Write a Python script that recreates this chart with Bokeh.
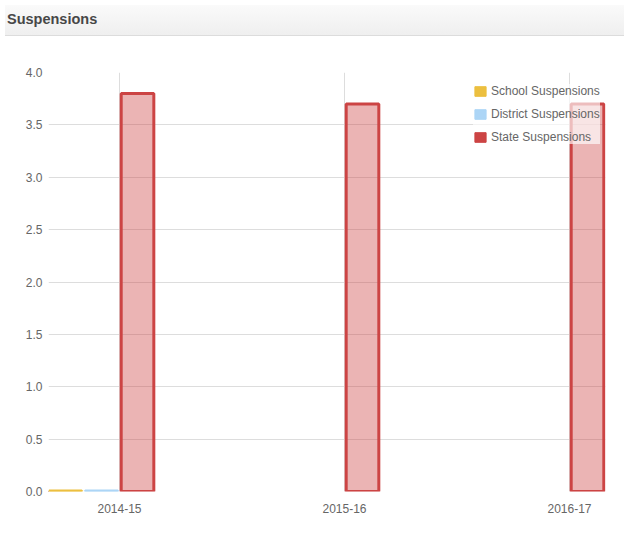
from bokeh.plotting import figure
from bokeh.models import ColumnDataSource, FixedTicker, Div, Legend, LegendItem, NumeralTickFormatter
from bokeh.layouts import column
from bokeh.embed import file_html
from bokeh.resources import INLINE

nan = float("nan")
categories = ["2014-15", "2015-16", "2016-17"]
school = [0.01, nan, nan]
district = [0.01, nan, nan]
state = [3.8, 3.7, 3.7]
series_names = ["School Suspensions", "District Suspensions", "State Suspensions"]
y_ticks = [0.0, 0.5, 1.0, 1.5, 2.0, 2.5, 3.0, 3.5, 4.0]

FONT = "Liberation Sans"
idx = list(range(len(categories)))
colors = ["#ecbf3f", "#acd5f6", "#cc4444"]
offsets = [-0.24, -0.08, 0.08]
bar_w = 0.145

header = Div(
    text='<div style="font: bold 14.5px \'Liberation Sans\', Arial, sans-serif; color:#474747; line-height:28px; padding-left:2px;">Suspensions</div>',
    width=619, height=31,
    styles={"background": "linear-gradient(#fafafa, #efefef)", "border-bottom": "1px solid #dcdcdc"},
)

p = figure(width=619, height=498, output_backend="svg", toolbar_location=None,
           x_range=(-0.3156, 2.16), y_range=(0, 4.0))
p.min_border_left = 48
p.min_border_right = 14
p.min_border_top = 31
p.min_border_bottom = 48
p.outline_line_color = None
p.background_fill_color = "white"
p.border_fill_color = "white"

for vals, col, off in zip([school, district], colors[:2], offsets[:2]):
    src = ColumnDataSource(dict(x=[i + off for i in idx], top=vals))
    p.vbar(x="x", top="top", bottom=0, width=bar_w, source=src,
           fill_color=col, line_color=col, line_width=2)

src_state = ColumnDataSource(dict(x=[i + offsets[2] for i in idx], top=state))
p.vbar(x="x", top="top", bottom=0, width=bar_w, source=src_state,
       fill_color=colors[2], fill_alpha=0.4, line_color=colors[2], line_width=3)

# legend swatches (off-range proxies, solid colours as in the reference legend)
items = []
for name, col in zip(series_names, colors):
    r = p.vbar(x=[-10], top=[0], width=0.1, fill_color=col, line_color=col)
    items.append(LegendItem(label=name, renderers=[r]))
legend = Legend(items=items, location=(425, 347), margin=0, padding=4,
                glyph_width=14, glyph_height=12, label_height=12, spacing=9,
                label_standoff=4, label_text_font=FONT, label_text_font_size="12px",
                label_text_color="#666666", background_fill_color="white",
                background_fill_alpha=0.65, border_line_color=None)
p.add_layout(legend, "center")

p.xaxis.ticker = FixedTicker(ticks=idx)
p.xaxis.major_label_overrides = {i: c for i, c in zip(idx, categories)}
p.yaxis.ticker = FixedTicker(ticks=y_ticks)
p.yaxis.formatter = NumeralTickFormatter(format="0.0")
for ax in (p.xaxis, p.yaxis):
    ax.major_label_text_font = FONT
    ax.major_label_text_font_size = "12px"
    ax.major_label_text_color = "#666666"
    ax.major_tick_line_color = None
    ax.minor_tick_line_color = None
    ax.axis_line_color = None
p.xaxis.major_label_standoff = 6
p.yaxis.major_label_standoff = 0
p.xgrid.ticker = FixedTicker(ticks=idx)
p.ygrid.ticker = FixedTicker(ticks=y_ticks)
p.xgrid.grid_line_color = "#dddddd"
p.ygrid.grid_line_color = "#dddddd"

layout = column(header, p, spacing=0)
open("out.html", "w").write(file_html(layout, INLINE))
